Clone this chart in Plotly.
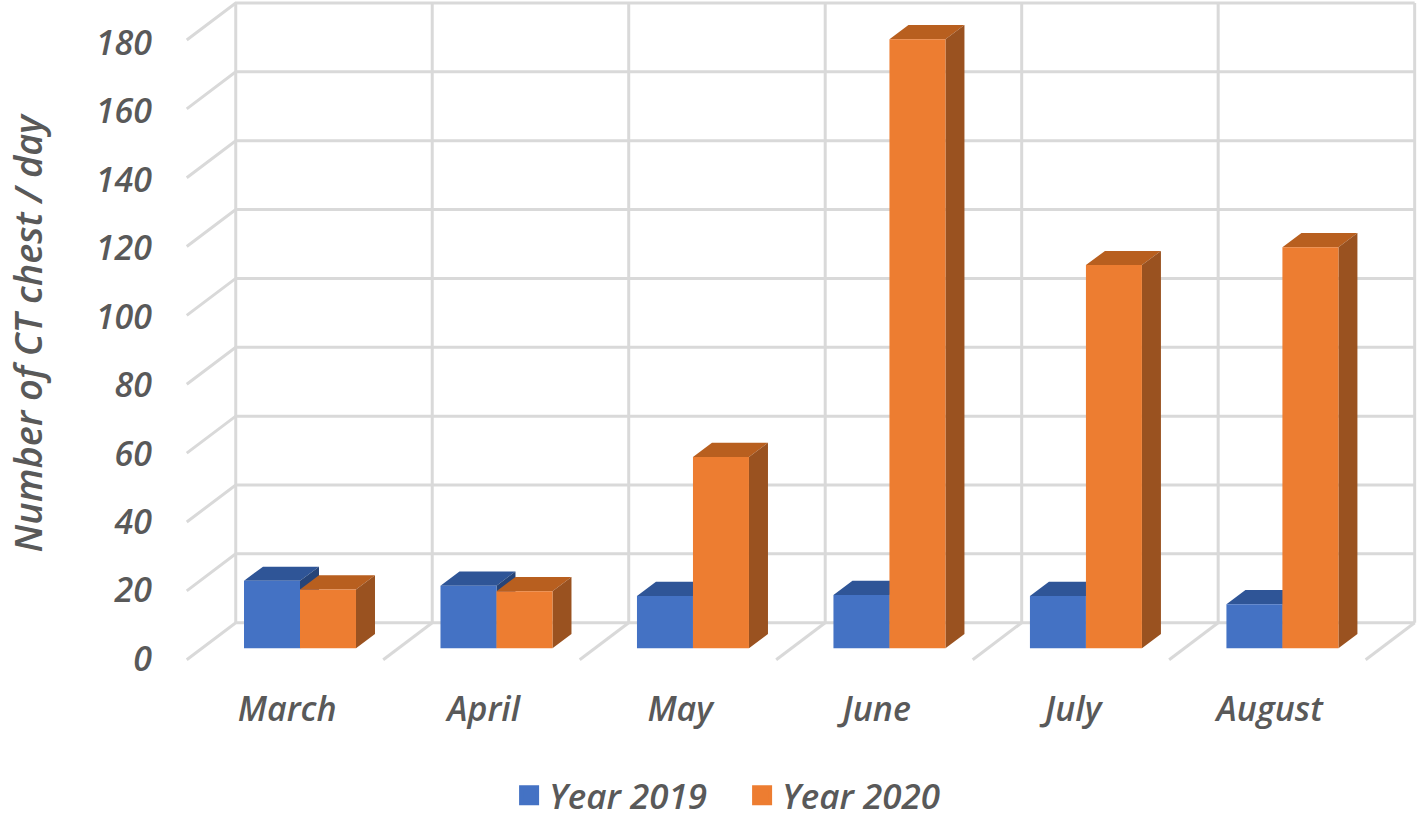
import plotly.graph_objects as go

months = ["March", "April", "May", "June", "July", "August"]
year_2019 = [19.6, 18.2, 15.2, 15.5, 15.2, 12.8]
year_2020 = [17.1, 16.6, 55.6, 176.9, 111.3, 116.5]
y_ticks = [0, 20, 40, 60, 80, 100, 120, 140, 160, 180]
y_title = "Number of CT chest / day"

FONT = "Open Sans"
TXT = "#595959"
GRID = "#D9D9D9"
BAR_W = 0.285
DX, DY = 0.0967, 4.12            # bar depth in axis units
WALL_X, WALL_Y = -0.327, 7.435   # back wall origin relative to the bar floor
FLOOR_DX, FLOOR_DY = -0.2494, -10.75

xs = list(range(len(months)))

grid_x, grid_y = [], []
top = y_ticks[-1] + WALL_Y
right = WALL_X + len(months)
for t in y_ticks:
    yv = t + WALL_Y
    grid_x += [WALL_X + FLOOR_DX, WALL_X, right, None]
    grid_y += [yv + FLOOR_DY, yv, yv, None]
for k in range(len(months) + 1):
    xv = WALL_X + k
    grid_x += [xv, xv, None]
    grid_y += [top, WALL_Y, None]
    if k:
        grid_x += [xv + FLOOR_DX, xv, None]
        grid_y += [WALL_Y + FLOOR_DY, WALL_Y, None]

fig = go.Figure()
fig.add_trace(go.Scatter(x=grid_x, y=grid_y, mode="lines", line=dict(color=GRID, width=3),
                         showlegend=False, hoverinfo="skip", zorder=0))


def faces(values, left):
    tx, ty, sx, sy = [], [], [], []
    for x, v in zip(xs, values):
        a, b = x + left, x + left + BAR_W
        tx += [a, a + DX, b + DX, b, a, None]
        ty += [v, v + DY, v + DY, v, v, None]
        sx += [b, b + DX, b + DX, b, b, None]
        sy += [0, DY, v + DY, v, 0, None]
    return tx, ty, sx, sy


series = [("Year 2019", year_2019, -BAR_W, "#4472C4", "#2F5597", "#264478", 1),
          ("Year 2020", year_2020, 0.0, "#ED7D31", "#B85F1F", "#9A5220", 3)]
for name, vals, left, front, topc, side, z in series:
    tx, ty, sx, sy = faces(vals, left)
    for px, py, col in ((tx, ty, topc), (sx, sy, side)):
        fig.add_trace(go.Scatter(x=px, y=py, mode="lines", fill="toself", fillcolor=col,
                                 line=dict(color=col, width=0), showlegend=False,
                                 hoverinfo="skip", zorder=z))
    fig.add_trace(go.Bar(x=xs, y=vals, name=name, width=BAR_W, offset=left,
                         marker=dict(color=front, line=dict(width=0)),
                         showlegend=False, zorder=z + 1))
    fig.add_trace(go.Scatter(x=[None], y=[None], name=name, mode="markers",
                             marker=dict(symbol="square", size=16, color=front,
                                         line=dict(color=front, width=4)),
                             showlegend=True, zorder=z + 1))

font = dict(family=FONT, size=34, color=TXT, weight=600, style="italic")
fig.update_layout(
    width=1418, height=818,
    margin=dict(l=160, r=0, t=0, b=153, autoexpand=False),
    paper_bgcolor="white", plot_bgcolor="white",
    barmode="overlay",
    font=font,
    showlegend=True,
    legend=dict(orientation="h", x=0.2775, xref="paper", y=-0.152, yanchor="top", xanchor="left",
                font=font | dict(size=35), itemsizing="trace", entrywidth=188, entrywidthmode="pixels"),
    xaxis=dict(range=[-0.7125, 5.690], showgrid=False, zeroline=False, showline=False,
               tickmode="array", tickvals=[x - 0.065 for x in xs], ticktext=months,
               ticks="", ticklabelstandoff=21, tickfont=font),
    yaxis=dict(range=[-4.85, 188.3], showgrid=False, zeroline=False, showline=False,
               tickmode="array", tickvals=[t * 0.994 - 3.1 for t in y_ticks],
               ticktext=[str(t) for t in y_ticks],
               ticks="", ticklabelstandoff=7, tickfont=font),
    annotations=[dict(text=y_title, xref="paper", yref="paper", x=-0.1065, y=0.5,
                      xanchor="center", yanchor="middle", textangle=-90, showarrow=False,
                      font=font | dict(size=38))],
)
fig.write_html("out.html", config=dict(displayModeBar=False),
               post_script="document.body.style.margin='0';")
